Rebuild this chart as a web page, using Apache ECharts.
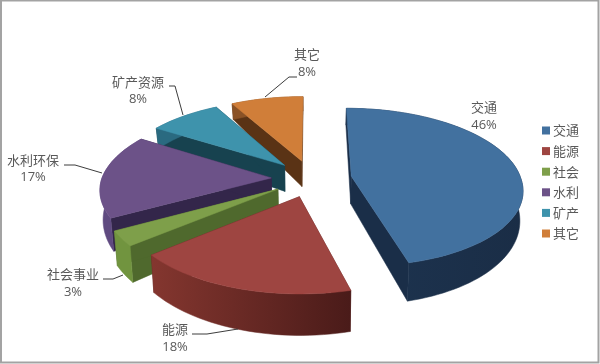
<!DOCTYPE html>
<html><head><meta charset="utf-8">
<style>html,body{margin:0;padding:0;background:#fff}#c{width:600px;height:364px}</style>
<script src="https://cdn.jsdelivr.net/npm/echarts@6/dist/echarts.min.js"></script>
</head><body><div id="c"></div>
<script>
const legendNames = ['交通','能源','社会','水利','矿产','其它'];
const labelNames  = ['交通','能源','社会事业','水利环保','矿产资源','其它'];
const shares      = [46,18,3,17,8,8];

// styling only
const topColors  = ['#42719f','#9e4541','#7e9f4a','#6c5288','#3e93ac','#d07e39'];
const cutColors  = ['#1a2e48','#5a2220','#4f692d','#33264a','#17424f','#5a3315'];
const wallColors = [['#1d3450','#1a2d46'],['#84362f','#4a1b19'],['#71943f','#71943f'],['#5f4a80','#5f4a80'],['#2a6a80','#2a6a80'],['#8a5226','#8a5226']];
const paintOrder = [5,6,4,3,2,1];
const labelBoxes = [[484,107,125],[175,329,347],[73,274,292],[33,160,177],[138,82,99],[307,54,72]];
const leaders = [null,
  [[238,329],[207,334],[192,334]],
  [[123,275],[113,279],[103,279]],
  [[102,173],[75,165],[64,165]],
  [[183,115],[175,86],[169,86]],
  [[265,97],[289,77],[297,77]]];

const CX=311.5, CY=178.5, A=169.5, B=78, K=0.14, EXPLODE=0.2375, SHEAR=3;
function proj(U,V,low){
  const w=1+K*V;
  const shear=V<0?-SHEAR*V:0;
  return [CX+A*U/w*(low?0.985:1)+shear, CY-B*V/w+(low?28-11*V:0)];
}
const total = shares.reduce((a,b)=>a+b,0);
function sliceShape(i){
  let before=0; for(let j=0;j<i;j++) before+=shares[j];
  const a0=before/total*2*Math.PI, a1=(before+shares[i])/total*2*Math.PI, m=(a0+a1)/2;
  const eu=EXPLODE*Math.sin(m), ev=EXPLODE*Math.cos(m);
  const n=Math.max(6,Math.ceil((a1-a0)/(Math.PI/90)));
  const up=[],lo=[];
  for(let s=0;s<=n;s++){
    const a=a0+(a1-a0)*s/n, U=eu+Math.sin(a), V=ev+Math.cos(a);
    up.push(proj(U,V,false)); lo.push(proj(U,V,true));
  }
  const ct=proj(eu,ev,false), cl=proj(eu,ev,true);
  return {up,lo,ct,cl};
}
function poly(points,fill,z2){
  return {type:'polygon',shape:{points},z2,silent:true,style:{fill,stroke:fill,lineWidth:0.5}};
}
function renderSlice(i){
  return function(){
    const {up,lo,ct,cl}=sliceShape(i);
    const n=up.length-1, children=[];
    children.push(poly([ct,up[0],lo[0],cl],cutColors[i],1));
    children.push(poly([ct,up[n],lo[n],cl],cutColors[i],1));
    const xs=up.concat(lo).map(p=>p[0]);
    const grad={type:'linear',global:true,x:Math.min(...xs),y:0,x2:Math.max(...xs),y2:0,
      colorStops:[{offset:0,color:wallColors[i][0]},{offset:1,color:wallColors[i][1]}]};
    children.push(poly(up.concat(lo.slice().reverse()),grad,2));
    children.push(poly([ct].concat(up),topColors[i],3));
    if(leaders[i]) children.push({type:'polyline',shape:{points:leaders[i]},z2:5,silent:true,
      style:{fill:'none',stroke:'#3d3d3d',lineWidth:1}});
    const b=labelBoxes[i];
    const font='13px "Noto Sans CJK SC","Noto Sans",sans-serif';
    children.push({type:'text',z2:6,silent:true,style:{x:b[0],y:b[1],text:labelNames[i],align:'center',verticalAlign:'middle',fill:'#595959',font}});
    children.push({type:'text',z2:6,silent:true,style:{x:b[0],y:b[2],text:shares[i]+'%',align:'center',verticalAlign:'middle',fill:'#595959',font:'13px "Open Sans","Liberation Sans",sans-serif'}});
    return {type:'group',children};
  };
}
const chart=echarts.init(document.getElementById('c'),null,{renderer:'canvas'});
chart.setOption({
  animation:false,
  backgroundColor:'#fff',
  legend:{
    orient:'vertical',left:537,top:119,itemWidth:8,itemHeight:8,itemGap:7.6,icon:'rect',
    data:legendNames,selectedMode:false,
    textStyle:{fontSize:13,color:'#595959',fontFamily:'"Noto Sans CJK SC",sans-serif',padding:[0,0,0,-2]}
  },
  graphic:[{type:'rect',silent:true,shape:{x:1,y:0.5,width:597.5,height:362},style:{fill:'none',stroke:'#a3a3a3',lineWidth:2}}],
  series:legendNames.map((name,i)=>({
    type:'custom',name,coordinateSystem:'none',z:paintOrder[i]+2,
    itemStyle:{color:topColors[i]},
    data:[shares[i]],
    renderItem:renderSlice(i)
  }))
});
</script></body></html>
